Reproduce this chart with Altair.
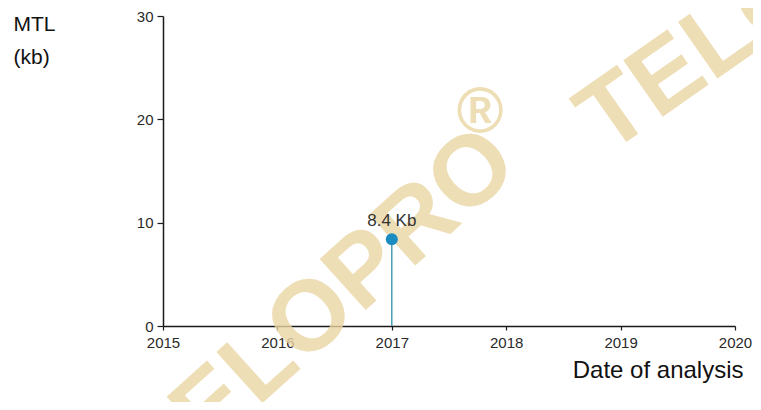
import altair as alt
import pandas as pd

# ---- data ----
years = [2017]
mtl_kb = [8.4]
point_labels = ["8.4 Kb"]
x_ticks = [2015, 2016, 2017, 2018, 2019, 2020]
y_ticks = [0, 10, 20, 30]
x_title = "Date of analysis"
y_title = ["MTL", "(kb)"]
watermark_main = "TELOPRO"
watermark_mark = "®"
watermark_tail = "TELO"

df = pd.DataFrame({"year": years, "mtl": mtl_kb, "label": point_labels})

W, H = 572, 310
PAD_L = 155
FONT = "Liberation Sans"
WM_COLOR = "#ebd6a3"

x_enc = alt.X(
    "year:Q",
    scale=alt.Scale(domain=[x_ticks[0], x_ticks[-1]], nice=False, zero=False),
    axis=alt.Axis(
        values=x_ticks, format="d", title=x_title, labelFlush=False,
        titleAlign="right", titleAnchor="end", titleX=W + 8, titleY=51,
        titleBaseline="alphabetic", titleAngle=0,
        tickSize=4, labelPadding=5,
    ),
)
y_enc = alt.Y(
    "mtl:Q",
    scale=alt.Scale(domain=[y_ticks[0], y_ticks[-1]], nice=False),
    axis=alt.Axis(
        values=y_ticks, title=y_title, labelFlush=False,
        titleAngle=0, titleAlign="left", titleBaseline="alphabetic",
        titleX=-150, titleY=14, titleLineHeight=33, titleFontSize=21,
        tickSize=6, labelPadding=4,
    ),
)

base = alt.Chart(df)

wm1 = base.mark_text(
    text=watermark_main, angle=318, fontSize=100, fontWeight="bold",
    font=FONT, color=WM_COLOR, opacity=0.8, align="center", baseline="middle",
).encode(x=alt.value(159), y=alt.value(293))

wm2 = base.mark_text(
    text=watermark_mark, fontSize=64, fontWeight="bold",
    font=FONT, color=WM_COLOR, opacity=0.8, align="center", baseline="middle",
).encode(x=alt.value(317), y=alt.value(97))

wm3 = base.mark_text(
    text=watermark_tail, angle=325, fontSize=100, fontWeight="bold",
    font=FONT, color=WM_COLOR, opacity=0.8, align="left", baseline="middle",
).encode(x=alt.value(427), y=alt.value(115))

rule = base.mark_rule(color="#2e8fae", strokeWidth=1.3).encode(
    x=x_enc, y=y_enc, y2=alt.datum(0)
)
point = base.mark_circle(size=145, color="#1a8cc2", opacity=1).encode(
    x=x_enc, y=y_enc
)
label = base.mark_text(
    baseline="bottom", dy=-9, fontSize=17, font=FONT, color="#333333"
).encode(x=x_enc, y=y_enc, text="label:N")

chart = (
    alt.layer(wm1, wm2, wm3, rule, point, label)
    .properties(
        width=W, height=H,
        autosize=alt.AutoSizeParams(type="none"),
        padding={"left": PAD_L, "top": 8, "right": 745 - PAD_L - W, "bottom": 76},
    )
    .configure_view(stroke=None)
    .configure_axis(
        grid=False,
        domainColor="#1a1a1a", domainWidth=1.5,
        tickColor="#1a1a1a", tickWidth=1.2,
        labelFont=FONT, labelFontSize=15, labelColor="#2a2a2a",
        titleFont=FONT, titleFontSize=24, titleFontWeight="normal",
        titleColor="#111111",
    )
)

chart.save("out.html", embed_options={"renderer": "svg", "actions": False})
